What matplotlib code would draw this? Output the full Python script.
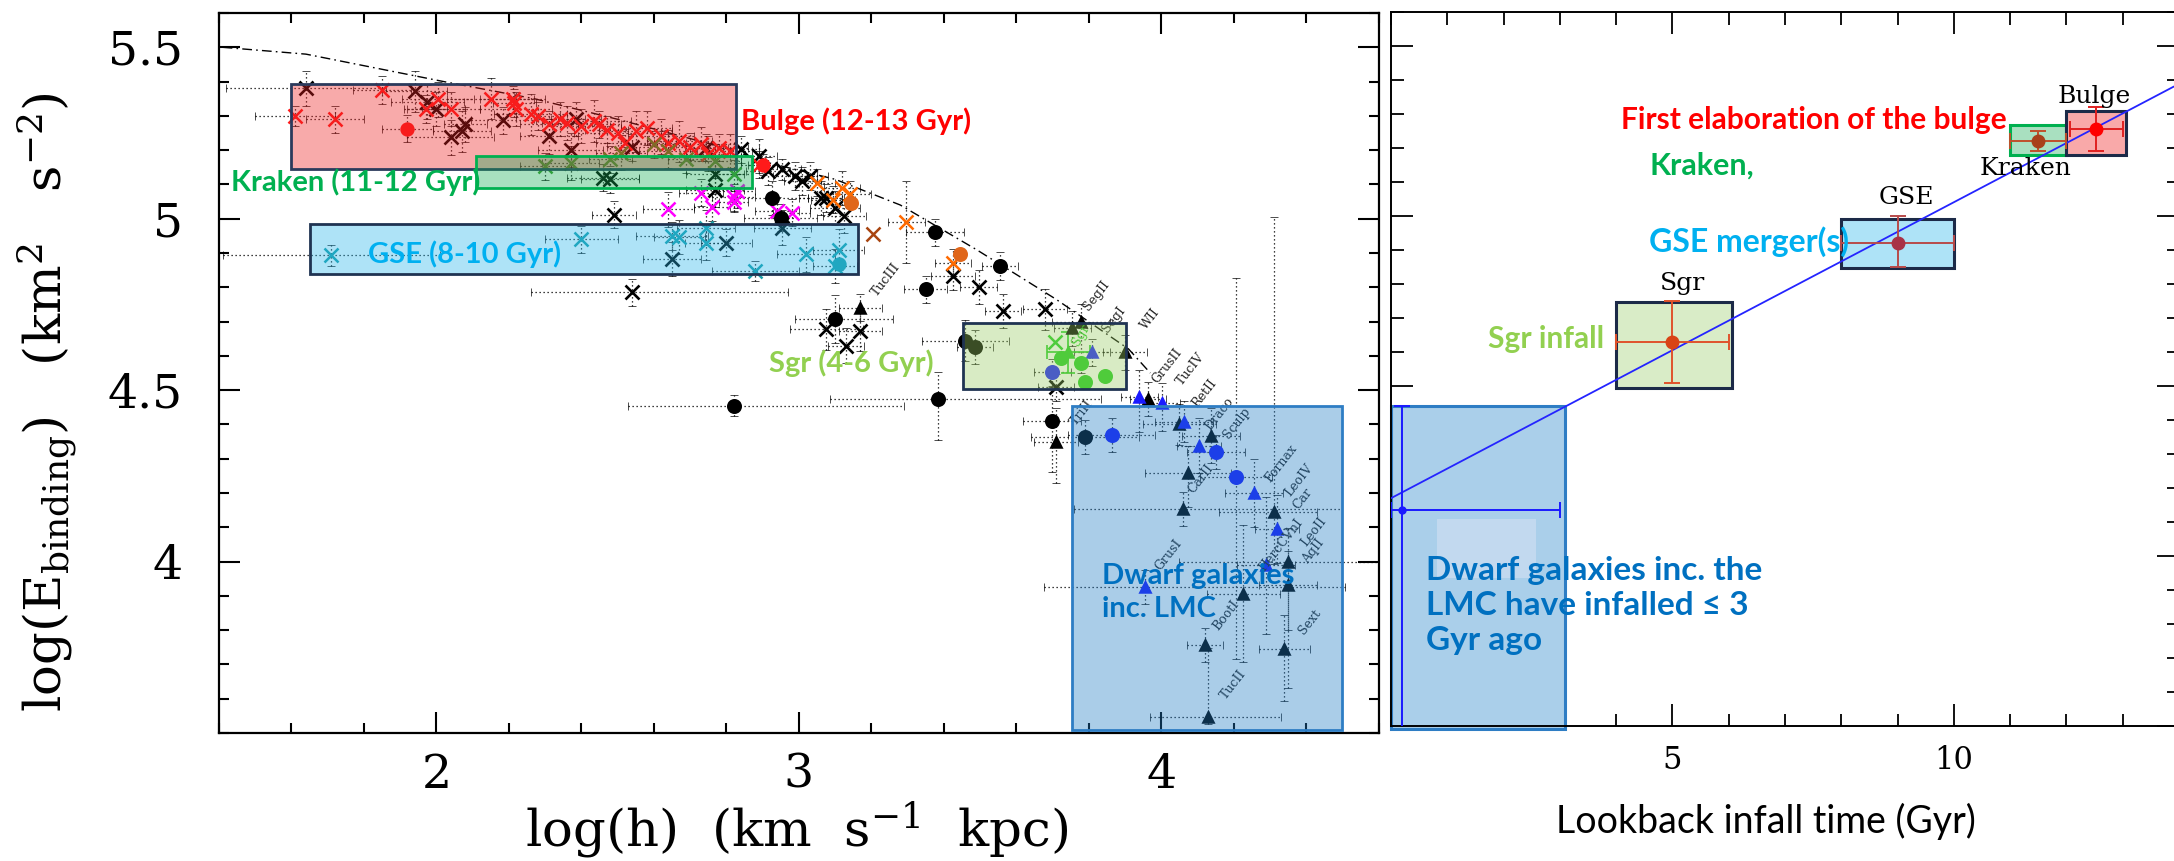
import matplotlib
matplotlib.use("Agg")
import matplotlib.pyplot as plt
from matplotlib.patches import Rectangle
from matplotlib.colors import to_rgba
from matplotlib.ticker import MultipleLocator, FixedLocator, FuncFormatter

plt.rcParams["mathtext.fontset"] = "dejavuserif"
SERIF = "DejaVu Serif"
SANS = ["Lato", "DejaVu Sans"]

# ---------------------------------------------------------------------------
# Left panel: binding energy vs angular momentum
# ---------------------------------------------------------------------------
# bulge stars (red crosses)
red_x = [1.61, 1.72, 1.85, 2.005, 1.97, 2.04, 2.15, 2.21, 2.22, 2.215, 2.26, 2.31,
         2.36, 2.436, 2.45, 2.50, 2.52, 2.55, 2.58, 2.67, 2.73, 2.78, 2.81, 2.89,
         2.40, 2.47, 2.62, 2.70, 2.75, 2.64, 2.34, 2.28]
red_y = [5.30, 5.29, 5.375, 5.348, 5.32, 5.32, 5.35, 5.348, 5.32, 5.338, 5.304, 5.275,
         5.28, 5.285, 5.275, 5.25, 5.222, 5.255, 5.265, 5.226, 5.217, 5.207, 5.197, 5.158,
         5.27, 5.26, 5.24, 5.21, 5.19, 5.22, 5.29, 5.30]
red_xe = [0.11, 0.08, 0.08, 0.10, 0.06, 0.08, 0.12, 0.09, 0.10, 0.06, 0.10, 0.08,
          0.07, 0.10, 0.06, 0.12, 0.08, 0.10, 0.07, 0.09, 0.10, 0.08, 0.06, 0.05,
          0.08, 0.06, 0.09, 0.07, 0.06, 0.05, 0.07, 0.06]
red_ye = [0.03, 0.04, 0.04, 0.05, 0.04, 0.05, 0.06, 0.04, 0.05, 0.04, 0.06, 0.04,
          0.05, 0.06, 0.04, 0.05, 0.04, 0.06, 0.05, 0.06, 0.05, 0.04, 0.05, 0.04,
          0.05, 0.04, 0.05, 0.04, 0.05, 0.04, 0.05, 0.04]
reddot_x = [1.92, 2.90]
reddot_y = [5.263, 5.158]
reddot_xe = [0.07, 0.04]
reddot_ye = [0.04, 0.03]

# field / halo stars (black crosses)
blk_x = [1.64, 1.94, 1.975, 2.0, 2.04, 2.07, 2.08, 2.185, 2.31, 2.385, 2.37, 2.54,
         2.46, 2.48, 2.745, 2.77, 2.84, 2.89, 2.915, 2.955, 2.99, 3.01, 3.03, 2.77,
         2.49, 2.65, 2.80, 2.955, 2.54, 3.06, 3.076, 3.10, 3.126, 3.426, 3.496, 3.564,
         3.076, 3.17, 3.13, 3.68, 3.71]
blk_y = [5.38, 5.372, 5.34, 5.32, 5.237, 5.255, 5.275, 5.287, 5.24, 5.29, 5.20, 5.208,
         5.12, 5.115, 5.207, 5.13, 5.202, 5.183, 5.139, 5.144, 5.125, 5.11, 5.124, 5.085,
         5.012, 4.882, 4.93, 4.974, 4.785, 5.061, 5.061, 5.032, 5.008, 4.833, 4.80, 4.731,
         4.678, 4.673, 4.63, 4.736, 4.508]
blk_xe_lo = [0.22, 0.09, 0.10, 0.08, 0.12, 0.08, 0.06, 0.09, 0.08, 0.07, 0.09, 0.07,
             0.10, 0.08, 0.06, 0.08, 0.05, 0.05, 0.06, 0.05, 0.06, 0.05, 0.05, 0.08,
             0.06, 0.08, 0.07, 0.08, 0.28, 0.06, 0.05, 0.07, 0.06, 0.06, 0.05, 0.05,
             0.10, 0.06, 0.05, 0.06, 0.05]
blk_xe_hi = [0.22, 0.09, 0.10, 0.08, 0.12, 0.08, 0.06, 0.09, 0.08, 0.07, 0.09, 0.07,
             0.10, 0.08, 0.06, 0.08, 0.05, 0.05, 0.06, 0.05, 0.06, 0.05, 0.05, 0.08,
             0.06, 0.08, 0.07, 0.08, 0.43, 0.06, 0.05, 0.07, 0.06, 0.06, 0.05, 0.05,
             0.10, 0.06, 0.05, 0.06, 0.05]
blk_ye = [0.05, 0.06, 0.05, 0.05, 0.05, 0.06, 0.05, 0.04, 0.05, 0.05, 0.05, 0.04,
          0.04, 0.04, 0.04, 0.05, 0.04, 0.05, 0.04, 0.03, 0.04, 0.04, 0.04, 0.05,
          0.04, 0.05, 0.04, 0.05, 0.04, 0.05, 0.04, 0.05, 0.05, 0.04, 0.05, 0.05,
          0.06, 0.06, 0.05, 0.06, 0.04]

# Kraken-like stars (green crosses)
grn_x = [2.30, 2.37, 2.48, 2.51, 2.60, 2.64, 2.69, 2.77, 2.82]
grn_y = [5.153, 5.163, 5.173, 5.193, 5.217, 5.197, 5.173, 5.168, 5.13]
grn_xe = [0.07, 0.08, 0.06, 0.07, 0.06, 0.08, 0.05, 0.07, 0.05]
grn_ye = [0.04, 0.05, 0.04, 0.05, 0.04, 0.05, 0.04, 0.05, 0.04]

# magenta crosses
mag_x = [2.73, 2.64, 2.76, 2.82, 2.83, 2.94, 2.98, 2.82]
mag_y = [5.076, 5.027, 5.033, 5.062, 5.08, 5.022, 5.018, 5.05]
mag_xe = [0.06, 0.07, 0.05, 0.06, 0.05, 0.06, 0.05, 0.04]
mag_ye = [0.04, 0.05, 0.04, 0.04, 0.05, 0.04, 0.04, 0.03]

# GSE stars (teal crosses)
teal_x = [1.71, 2.40, 2.65, 2.67, 2.745, 2.745, 2.88, 3.02, 3.11, 3.10]
teal_y = [4.893, 4.94, 4.95, 4.946, 4.974, 4.93, 4.848, 4.896, 4.91, 4.862]
teal_xe = [0.30, 0.10, 0.10, 0.07, 0.08, 0.06, 0.12, 0.08, 0.07, 0.06]
teal_ye = [0.03, 0.04, 0.04, 0.05, 0.05, 0.05, 0.03, 0.05, 0.06, 0.05]
tealdot_x = [3.11]
tealdot_y = [4.867]

# orange crosses and dots
org_x = [3.05, 3.094, 3.12, 3.14, 3.297, 3.426]
org_y = [5.105, 5.056, 5.09, 5.071, 4.99, 4.872]
org_xe = [0.05, 0.06, 0.05, 0.06, 0.05, 0.05]
org_ye = [0.04, 0.04, 0.05, 0.04, 0.12, 0.04]
brn_x = [3.205]
brn_y = [4.955]
orgdot_x = [3.145, 3.445]
orgdot_y = [5.047, 4.896]

# globular clusters (black dots)
gc_x = [2.925, 2.95, 2.82, 3.376, 3.35, 3.555, 3.10, 3.385, 3.46, 3.486, 3.70, 3.79]
gc_y = [5.061, 5.003, 4.455, 4.96, 4.794, 4.862, 4.707, 4.474, 4.644, 4.625, 4.41, 4.363]
gc_xe_lo = [0.10, 0.10, 0.29, 0.08, 0.06, 0.05, 0.11, 0.30, 0.12, 0.05, 0.08, 0.15]
gc_xe_hi = [0.10, 0.10, 0.47, 0.08, 0.06, 0.05, 0.16, 0.45, 0.12, 0.05, 0.08, 0.15]
gc_ye_lo = [0.05, 0.04, 0.03, 0.04, 0.04, 0.04, 0.07, 0.12, 0.06, 0.05, 0.15, 0.05]
gc_ye_hi = [0.05, 0.04, 0.03, 0.04, 0.04, 0.04, 0.07, 0.08, 0.06, 0.05, 0.10, 0.05]

# dwarf galaxies (black triangles)
dw_x = [3.17, 3.78, 3.755, 3.90, 3.71, 3.964, 4.05, 4.138, 4.074, 4.06, 4.31, 4.35,
        4.35, 4.227, 4.12, 4.34, 4.13]
dw_y = [4.741, 4.70, 4.68, 4.61, 4.348, 4.474, 4.40, 4.367, 4.258, 4.154, 4.144, 3.999,
        3.932, 3.906, 3.756, 3.744, 3.547]
dw_xe_lo = [0.06, 0.08, 0.05, 0.06, 0.06, 0.05, 0.10, 0.08, 0.12, 0.30, 0.15, 0.30,
            0.08, 0.10, 0.05, 0.07, 0.16]
dw_xe_hi = [0.06, 0.08, 0.05, 0.06, 0.06, 0.05, 0.10, 0.08, 0.12, 0.44, 0.12, 0.25,
            0.08, 0.10, 0.05, 0.07, 0.20]
dw_ye_lo = [0.04, 0.15, 0.05, 0.05, 0.12, 0.05, 0.06, 0.08, 0.10, 0.05, 0.15, 0.20,
            0.30, 0.20, 0.05, 0.15, 0.02]
dw_ye_hi = [0.04, 0.05, 0.05, 0.05, 0.10, 0.05, 0.06, 0.08, 0.08, 0.05, 0.86, 0.10,
            0.10, 0.20, 0.05, 0.10, 0.20]

# dwarf galaxies (blue triangles)
bdw_x = [3.81, 3.94, 4.003, 4.064, 4.105, 4.256, 4.32, 4.29, 3.956]
bdw_y = [4.61, 4.479, 4.462, 4.408, 4.338, 4.20, 4.095, 3.989, 3.926]
bdw_xe_lo = [0.05, 0.05, 0.05, 0.08, 0.06, 0.08, 0.06, 0.08, 0.28]
bdw_xe_hi = [0.05, 0.05, 0.05, 0.08, 0.06, 0.08, 0.06, 0.08, 0.55]
bdw_ye_lo = [0.04, 0.10, 0.08, 0.06, 0.08, 0.10, 0.10, 0.20, 0.05]
bdw_ye_hi = [0.04, 0.08, 0.06, 0.06, 0.08, 0.10, 0.10, 0.20, 0.05]

# blue dots
bgc_x = [3.70, 3.864, 4.152, 4.206]
bgc_y = [4.552, 4.37, 4.32, 4.246]
bgc_xe = [0.05, 0.12, 0.08, 0.10]
bgc_ye_lo = [0.04, 0.05, 0.05, 0.53]
bgc_ye_hi = [0.04, 0.05, 0.05, 0.58]

# Sagittarius members (green)
sgr_dot_x = [3.724, 3.78, 3.845, 3.79]
sgr_dot_y = [4.595, 4.58, 4.542, 4.523]
sgr_tri_x = [3.744]
sgr_tri_y = [4.61]
sgr_tri_xe = [0.06]
sgr_tri_ye = [0.06]
sgr_x_x = [3.707]
sgr_x_y = [4.64]

# escape/circular-orbit envelope (dash-dot)
env_x = [1.41, 1.64, 2.02, 2.27, 2.50, 2.82, 2.89, 3.10, 3.28, 3.49, 3.71, 3.91, 3.97]
env_y = [5.50, 5.48, 5.40, 5.35, 5.29, 5.20, 5.17, 5.115, 5.04, 4.91, 4.765, 4.62, 4.55]

# dwarf galaxy names
dw_names = ["TucIII", "SegII", "SegI", "WII", "GrusII", "TucIV", "TriII", "RetII",
            "Draco", "Sculp", "CarII", "Fornax", "LeoIV", "Car", "HercCVnI", "LeoII",
            "AqII", "GrusI", "BootI", "Sext", "TucII"]
dw_name_x = [3.24, 3.82, 3.87, 3.97, 4.015, 4.08, 3.78, 4.12, 4.16, 4.21, 4.11, 4.33,
             4.38, 4.39, 4.33, 4.42, 4.42, 4.02, 4.18, 4.41, 4.20]
dw_name_y = [4.823, 4.775, 4.707, 4.707, 4.57, 4.56, 4.435, 4.49, 4.43, 4.405, 4.24,
             4.285, 4.236, 4.183, 4.047, 4.086, 4.03, 4.018, 3.843, 3.824, 3.64]

# region boxes on the left panel
lbox_x0 = [1.600, 2.110, 1.652, 3.453, 3.753]
lbox_x1 = [2.826, 2.870, 3.162, 3.903, 4.499]
lbox_y0 = [5.146, 5.090, 4.838, 4.503, 3.510]
lbox_y1 = [5.394, 5.183, 4.986, 4.695, 4.455]
lbox_face = ["#ed2020", "#1aae59", "#2ab6ea", "#99cb64", "#207cc5"]
lbox_edge = ["#2b3a5c", "#00b050", "#1f3352", "#1f3352", "#2e7dc4"]

# labels: y is the baseline of the last line
llab_text = ["Bulge (12-13 Gyr)", "Kraken (11-12 Gyr)", "GSE (8-10 Gyr)", "Sgr (4-6 Gyr)",
             "Dwarf galaxies\ninc. LMC"]
llab_x = [2.84, 1.434, 1.81, 2.919, 3.836]
llab_y = [5.26, 5.081, 4.872, 4.552, 3.838]
llab_col = ["#ff0000", "#00b050", "#00b0f0", "#92d050", "#0070c0"]

# ---------------------------------------------------------------------------
# Right panel: binding energy vs lookback infall time
# ---------------------------------------------------------------------------
ev_names = ["Sgr", "GSE", "Kraken", "Bulge"]
ev_t = [5.0, 9.0, 11.5, 12.53]
ev_E = [4.63, 4.92, 5.22, 5.255]
ev_t_err = [1.0, 1.0, 0.5, 0.47]
ev_E_lo = [0.12, 0.07, 0.03, 0.065]
ev_E_hi = [0.12, 0.08, 0.03, 0.065]
ev_pt_col = ["#d84315", "#a83246", "#a8401a", "#ff0000"]
ev_err_col = ["#e0522b", "#b84a4a", "#c0502a", "#e02020"]
ev_box_t0 = [4.0, 8.0, 11.0, 12.0]
ev_box_t1 = [6.05, 10.0, 12.0, 13.05]
ev_box_E0 = [4.494, 4.846, 5.180, 5.180]
ev_box_E1 = [4.746, 4.990, 5.267, 5.310]
ev_box_face = ["#d9ecc7", "#aee3f7", "#a9e0c0", "#f9a9a9"]
ev_box_edge = ["#1c2a48", "#1c2a48", "#00b050", "#1c2a48"]
ev_lab_x = [5.18, 9.15, 11.28, 12.5]
ev_lab_y = [4.783, 5.034, 5.122, 5.333]

dwarf_t = [0.2]
dwarf_E = [4.135]
dwarf_t_lo, dwarf_t_hi = [0.2], [2.8]
dwarf_E_lo, dwarf_E_hi = [0.70], [0.305]
dwarf_box = (0.0, 3.1, 3.49, 4.44)

trend_t = [0.0, 13.9]
trend_E = [4.17, 5.38]

rlab_text = ["First elaboration of the bulge", "Kraken,", "GSE merger(s)", "Sgr infall",
             "Dwarf galaxies inc. the\nLMC have infalled \u2264 3\nGyr ago"]
rlab_x = [4.08, 4.59, 4.59, 1.73, 0.63]
rlab_y = [5.255, 5.122, 4.896, 4.612, 3.723]
rlab_col = ["#ff0000", "#00b050", "#00b0f0", "#92d050", "#0070c0"]
rlab_size = [21.5, 22, 23, 21.5, 24]

# ---------------------------------------------------------------------------
fig = plt.figure(figsize=(21.74, 8.61), dpi=100)
axL = fig.add_axes([219 / 2174, 1 - 733 / 861, 1159.6 / 2174, 720 / 861])
axR = fig.add_axes([1391 / 2174, 1 - 726 / 861, 788 / 2174, 714 / 861])


def dotted_errors(ax, x, y, xerr, yerr, z=2):
    eb = ax.errorbar(x, y, xerr=xerr, yerr=yerr, fmt="none", ecolor="black",
                     elinewidth=0.9, capsize=3, capthick=0.7, zorder=z)
    for col in eb[2]:
        col.set_linestyle((0, (1.0, 2.2)))
    for cap in eb[1]:
        cap.set_alpha(0.7)


def marks(ax, x, y, marker, color, ms, mew=1.8, z=4):
    ax.plot(x, y, ls="none", marker=marker, ms=ms, mew=mew, mfc=color, mec=color, zorder=z)


# error bars
dotted_errors(axL, red_x, red_y, red_xe, red_ye)
dotted_errors(axL, reddot_x, reddot_y, reddot_xe, reddot_ye)
dotted_errors(axL, blk_x, blk_y, [blk_xe_lo, blk_xe_hi], blk_ye)
dotted_errors(axL, grn_x, grn_y, grn_xe, grn_ye)
dotted_errors(axL, mag_x, mag_y, mag_xe, mag_ye)
dotted_errors(axL, teal_x, teal_y, teal_xe, teal_ye)
dotted_errors(axL, org_x, org_y, org_xe, org_ye)
dotted_errors(axL, gc_x, gc_y, [gc_xe_lo, gc_xe_hi], [gc_ye_lo, gc_ye_hi])
dotted_errors(axL, dw_x, dw_y, [dw_xe_lo, dw_xe_hi], [dw_ye_lo, dw_ye_hi])
dotted_errors(axL, bdw_x, bdw_y, [bdw_xe_lo, bdw_xe_hi], [bdw_ye_lo, bdw_ye_hi])
dotted_errors(axL, bgc_x, bgc_y, bgc_xe, [bgc_ye_lo, bgc_ye_hi])
axL.errorbar(sgr_tri_x, sgr_tri_y, xerr=sgr_tri_xe, yerr=sgr_tri_ye, fmt="none",
             ecolor="#22cc22", elinewidth=1.2, capsize=5, capthick=1.2, zorder=3)

# markers
marks(axL, blk_x, blk_y, "x", "black", 10.5, 1.9)
marks(axL, red_x, red_y, "x", "#ff1a1a", 10.5, 1.8)
marks(axL, reddot_x, reddot_y, "o", "#ff1a1a", 8.5)
marks(axL, grn_x, grn_y, "x", "#3f9a2c", 10.5, 1.8)
marks(axL, mag_x, mag_y, "x", "#ff00ff", 10.5, 1.8)
marks(axL, teal_x, teal_y, "x", "#1a9fa8", 10.5, 1.8)
marks(axL, tealdot_x, tealdot_y, "o", "#1a9fa8", 8.5)
marks(axL, org_x, org_y, "x", "#ff6a00", 10.5, 1.8)
marks(axL, brn_x, brn_y, "x", "#a84410", 10.5, 1.8)
marks(axL, orgdot_x, orgdot_y, "o", "#e0661a", 9)
marks(axL, gc_x, gc_y, "o", "black", 9)
marks(axL, dw_x, dw_y, "^", "black", 7.5)
marks(axL, bdw_x, bdw_y, "^", "#1a1aff", 7.5)
marks(axL, bgc_x, bgc_y, "o", "#1a1aff", 9)
marks(axL, sgr_dot_x, sgr_dot_y, "o", "#22cc22", 9)
marks(axL, sgr_tri_x, sgr_tri_y, "^", "#22cc22", 7.5)
marks(axL, sgr_x_x, sgr_x_y, "x", "#22cc22", 10.5, 1.8)

axL.plot(env_x, env_y, color="black", lw=1.0, ls=(0, (7, 3, 1.2, 3)), zorder=3)

for name, x, y in zip(dw_names, dw_name_x, dw_name_y):
    axL.text(x, y, name, family=SERIF, fontsize=9, rotation=52, ha="center", va="center",
             color="#222222", zorder=4)
axL.text(3.78, 4.66, "Sgr", family=SERIF, fontsize=9, rotation=60, ha="center",
         va="center", color="#22cc22", zorder=4)

# translucent region boxes
for x0, x1, y0, y1, fc, ec in zip(lbox_x0, lbox_x1, lbox_y0, lbox_y1, lbox_face, lbox_edge):
    axL.add_patch(Rectangle((x0, y0), x1 - x0, y1 - y0, facecolor=to_rgba(fc, 0.38),
                            edgecolor=ec, lw=2.0, zorder=6))

for txt, x, y, c in zip(llab_text, llab_x, llab_y, llab_col):
    axL.text(x, y, txt, family=SANS, weight="bold", fontsize=21, color=c,
             ha="left", va="baseline", linespacing=1.33, zorder=8)

axL.set_xlim(1.4, 4.6)
axL.set_ylim(3.5, 5.6)
axL.xaxis.set_major_locator(FixedLocator([2, 3, 4]))
axL.xaxis.set_minor_locator(MultipleLocator(0.2))
axL.yaxis.set_major_locator(FixedLocator([4.0, 4.5, 5.0, 5.5]))
axL.yaxis.set_minor_locator(MultipleLocator(0.1))
axL.yaxis.set_major_formatter(FuncFormatter(lambda v, p: f"{v:g}"))
axL.tick_params(which="both", direction="in", top=True, right=True, width=1.5)
axL.tick_params(which="major", length=15)
axL.tick_params(which="minor", length=7.5)
axL.tick_params(axis="y", which="major", pad=26, labelsize=34)
axL.tick_params(axis="x", which="major", pad=14, labelsize=34)
for lab in axL.get_xticklabels() + axL.get_yticklabels():
    lab.set_family(SERIF)
for sp in axL.spines.values():
    sp.set_linewidth(1.6)

fig.text(47 / 2174, 1 - 402 / 861,
         r"log(E$_{\rm binding}$)   (km$^{2}$   s$^{-2}$)",
         family=SERIF, fontsize=37, rotation=90, ha="center", va="center")
fig.text(797 / 2174, 1 - 830 / 861, r"log(h)  (km  s$^{-1}$  kpc)",
         family=SERIF, fontsize=37, ha="center", va="center")

# ---------------------------------------------------------------------------
# right panel
for t0, t1, e0, e1, fc, ec in zip(ev_box_t0, ev_box_t1, ev_box_E0, ev_box_E1,
                                  ev_box_face, ev_box_edge):
    axR.add_patch(Rectangle((t0, e0), t1 - t0, e1 - e0, facecolor=fc, edgecolor=ec,
                            lw=2.2, zorder=2))
dx0, dx1, dy0, dy1 = dwarf_box
axR.add_patch(Rectangle((dx0, dy0), dx1 - dx0, dy1 - dy0, facecolor="#aacfea",
                        edgecolor="#2e7dc4", lw=2.2, zorder=2, clip_on=False))
axR.add_patch(Rectangle((0.81, 3.936), 1.77, 0.174, facecolor="#c2d9ef",
                        edgecolor="none", zorder=2.5))

axR.plot(trend_t, trend_E, color="#2424ff", lw=1.3, zorder=3)

for t, E, te, elo, ehi, pc, ecol in zip(ev_t, ev_E, ev_t_err, ev_E_lo, ev_E_hi,
                                        ev_pt_col, ev_err_col):
    axR.errorbar([t], [E], xerr=[te], yerr=[[elo], [ehi]], fmt="o", ms=9, mfc=pc, mec=pc,
                 ecolor=ecol, elinewidth=1.4, capsize=6, capthick=1.4, zorder=5)

axR.errorbar(dwarf_t, dwarf_E, xerr=[dwarf_t_lo, dwarf_t_hi], yerr=[dwarf_E_lo, dwarf_E_hi],
             fmt="o", ms=5, mfc="#1a1aff", mec="#1a1aff", ecolor="#1a1aff",
             elinewidth=1.4, capsize=6, capthick=1.4, zorder=5)

for name, x, y in zip(ev_names, ev_lab_x, ev_lab_y):
    axR.text(x, y, name, family=SERIF, fontsize=18, ha="center", va="baseline", zorder=6)

for txt, x, y, c, s in zip(rlab_text, rlab_x, rlab_y, rlab_col, rlab_size):
    axR.text(x, y, txt, family=SANS, weight="bold", fontsize=s, color=c,
             ha="left", va="baseline", linespacing=1.26, zorder=7)

axR.set_xlim(0, 14)
axR.set_ylim(3.5, 5.6)
axR.xaxis.set_major_locator(FixedLocator([5, 10]))
axR.xaxis.set_minor_locator(MultipleLocator(1))
axR.yaxis.set_major_locator(MultipleLocator(0.5))
axR.yaxis.set_minor_locator(MultipleLocator(0.1))
axR.tick_params(which="both", direction="in", top=True, right=True, width=1.3,
                labelleft=False)
axR.tick_params(which="major", length=16)
axR.tick_params(which="minor", length=9)
axR.tick_params(axis="x", which="major", pad=14, labelsize=22)
for lab in axR.get_xticklabels():
    lab.set_family(SERIF)
for sp in axR.spines.values():
    sp.set_linewidth(1.4)

fig.text(1766 / 2174, 1 - 821 / 861, "Lookback infall time (Gyr)", family=SANS,
         fontsize=27, ha="center", va="center")

fig.savefig("out.png", dpi=100)
